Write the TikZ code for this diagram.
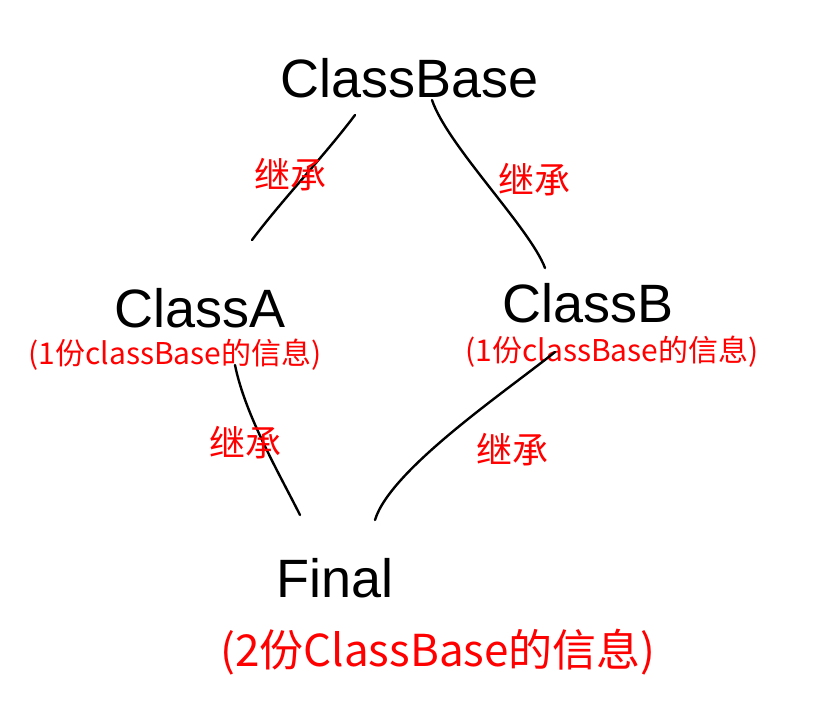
\documentclass[tikz,border=0pt]{standalone}
\usepackage{fontspec}
\setmainfont{Liberation Sans}
\newfontfamily\cjk{Noto Sans CJK SC}

\tikzstyle{cls} = [inner sep=0pt, font=\fontsize{54}{60}\selectfont]
\tikzstyle{info} = [inner sep=0pt, text=red, font=\cjk\fontsize{30}{34}\selectfont]
\tikzstyle{inh} = [inner sep=0pt, text=red, font=\cjk\fontsize{36}{40}\selectfont]
\tikzstyle{link} = [line width=2.4pt, line cap=round]

\begin{document}
\begin{tikzpicture}[x=1pt, y=-1pt]
\useasboundingbox[fill=white] (0,0) rectangle (816,705);

\node[cls] (base) at (410,78) {ClassBase};
\node[cls] (a) at (200,308) {ClassA};
\node[cls] (b) at (588,303) {ClassB};
\node[cls] (fin) at (335,578) {Final};

\node[info] (ainfo) at (175,355) {(1份classBase的信息)};
\node[info] (binfo) at (612,352) {(1份classBase的信息)};
\node[info, font=\cjk\fontsize{44}{50}\selectfont] (fininfo) at (438,652) {(2份ClassBase的信息)};

% inheritance edges
\draw[link] ([shift={(-55,37)}]base.center) .. controls +(-30,40) and +(30,-40) .. ([shift={(52,-68)}]a.center);
\draw[link] ([shift={(22,22)}]base.center) .. controls +(15,45) and +(-15,-40) .. ([shift={(-43,-35)}]b.center);
\draw[link] ([shift={(35,57)}]a.center) .. controls +(10,50) and +(-20,-40) .. ([shift={(-35,-63)}]fin.center);
\draw[link] ([shift={(-33,49)}]b.center) .. controls +(-50,40) and +(15,-50) .. ([shift={(40,-58)}]fin.center);

\node[inh] (l1) at (290,175) {继承};
\node[inh] (l2) at (534,180) {继承};
\node[inh] (l3) at (245,443) {继承};
\node[inh] (l4) at (512,450) {继承};
\end{tikzpicture}
\end{document}
